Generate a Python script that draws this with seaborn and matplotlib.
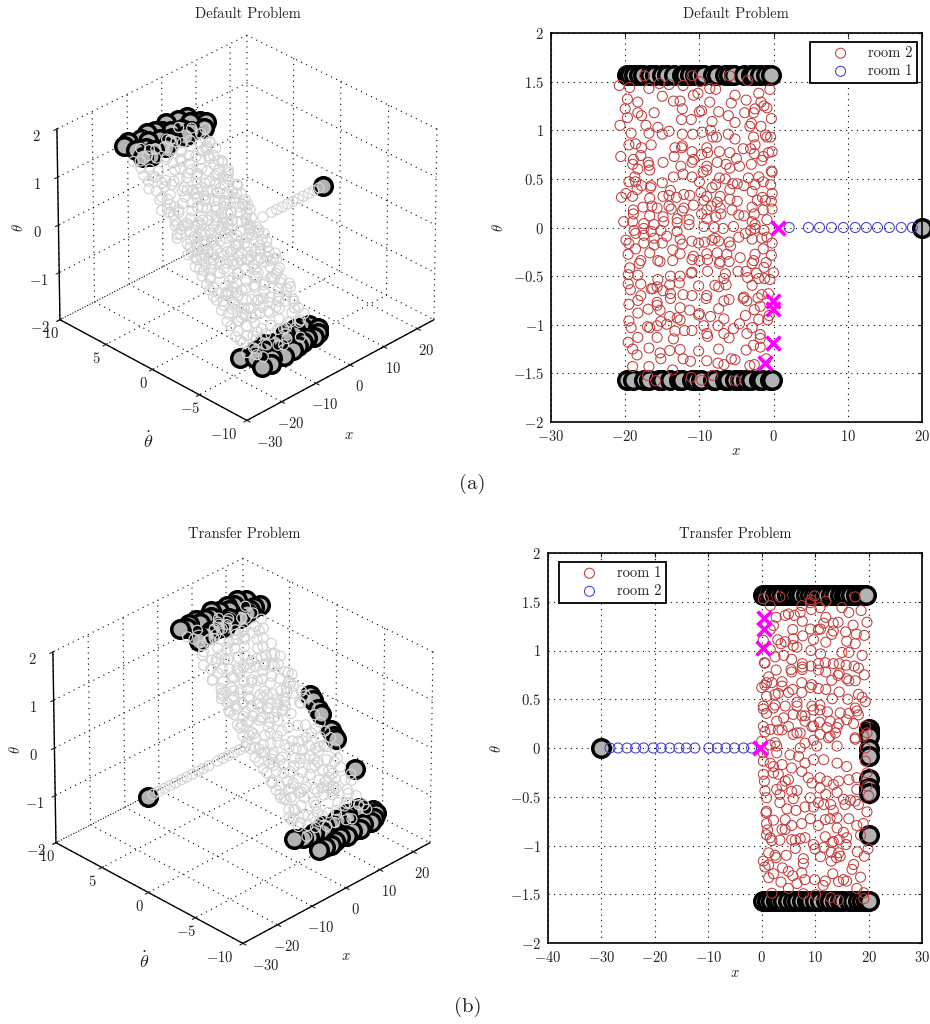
#!/usr/bin/env python3
"""Default and transfer problem: visited states in 3D and in the x-theta plane."""

import matplotlib
matplotlib.use("Agg")
import matplotlib.pyplot as plt
import seaborn as sns

# --- default problem, room 2 samples ---
default_x = [
    -17.4, -11, -5.9, -3.5, -20.8, -19.4, -16.8, -15.4, -14.1, -12.2,
    -9.9, -8.6, -7.8, -.5, -19.7, -15, -13.5, -12.6, -10.8, -10.2,
    -5.2, -2, -18.3, -8.6, -5.7, -3.7, -1.7, -1.3, -20, -12.3,
    -2.5, -.9, -10, -9.7, -16.1, -18.3, -17.8, -7.4, -6.1, -3.9,
    -2.7, -19.7, -12.4, -11.1, -.3, -20.7, -17.2, -15.6, -8.3, -5.2,
    -3, -3.2, -1.7, -8.5, -14.1, -19.2, -16.8, -15, -12.3, -10.9,
    -9.6, -6.1, -8.2, -7.7, -5.2, -2.7, -1.1, -.9, -.4, -19.5,
    -18.6, -17.8, -16.5, -13.3, -12.3, -12.4, -9, -2.5, -4.1, -3.1,
    -.7, -.2, -11, -7.3, -8.9, -9.7, -5.9, -2.6, -20.6, -17.9,
    -13.4, -5, -1.4, -1.6, -18.9, -10.8, -11, -16.9, -14.9, -7.6,
    -6.4, -4.6, -3, -19, -16.8, -16.7, -12.5, -9, -5.9, -18.3,
    -9, -9.5, -.2, -.3, -12.2, -18.7, -13.5, -11, -7.3, -6.5,
    -3.4, -2, -10, -19.5, -18.6, -15, -1.4, -7.8, -4.9, -5.5,
    -.4, -2.5, -17.8, -4, -16.5, -16.6, -8.3, -18.4, -5.9, -13.9,
    -2.9, -9.8, -.2, -19.9, -12.1, -11.3, -14.1, -20.5, -19, -9,
    -7.2, -1.5, -16.7, -14.9, -13.1, -9.4, -5.9, -2.2, -1.1, -.3,
    -7.6, -4.9, -10.8, -14.1, -8.4, -16.4, -17.6, -2.9, -7.2, -1.4,
    -.2, -18.9, -15.7, -13.8, -12.1, -12.3, -9, -5.6, -2.6, -9.7,
    -4.7, -4, -7.1, -7.8, -18.9, -16.7, -14.9, -13, -11.4, -9,
    -.9, -20.2, -19, -17.5, -16.1, -14.8, -13, -11.4, -9.4, -8,
    -6.8, -5.4, -2.9, -2.5, -3.1, -2.5, -1.3, -17.5, -18.8, -13,
    -16.5, -15.2, -3.8, -4.7, -18.6, -17.5, -16.1, -14.4, -12.6, -11,
    -10.1, -9.3, -7.9, -7.4, -6, -2.9, -1.6, -.2, -19.9, -19.5,
    -17.5, -16.1, -15, -12.3, -8.3, -5.8, -.9, -1.4, -19.6, -18.6,
    -16.7, -13.6, -12.6, -17.9, -18.1, -15.6, -15.3, -13.6, -10.8, -11,
    -10, -9, -8.9, -7.6, -7.2, -7.3, -6.3, -6, -4.5, -2.5,
    -2.7, -2.9, -.3, -1, -1.3, -19.4, -19.6, -18.3, -11, -11.1,
    -8.9, -6.5, -4.8, -3.7, -2.3, 0, -13.9, -12.6, -6.7, -3.5,
    -15.6, -1.2, -.5, -2, -19.6, -17.9, -12.7, -14, -10.1, -6.4,
    -2.9, -15.7, -16.5, -16.3, -7.9, -7.4, -19.3, -14.9, -17.9, -13.9,
    -13.9, -12.2, -11, -9, -9.1, -.7, -1.6, -2.1, -4, -18.3,
    -19.5, -15.7, -15.7, -6, -6.7, -4.1, -3.6, -16.9, -15.3, -12.6,
    -11.3, -18.3, -7.4, -2.6, -1.8, -10, -10.1, -.6, -.8, -8.5,
    -3.8, -2, -14, -13, -12.6, -6.7, -19.5, -15.2, -19.2, -17,
    -16.7, -15.7, -14.4, -9.4, -7.5, -4.6, -2.9, -13.3, -12, -11,
    -5.4, -9, -8.9, -6.7, -3.6, -1.8, -18.3, -15.7, -13.5, -6,
    -1.8, -19.6, -2.7, -1.8, -16.8, -19, -12.6, -14, -10.1, -7.4,
    -3.7, -18.4, -15.3, -15.2, -12.2, -11.2, -9, -5.7, -5.2, -7.5,
    -6.7, -3.2, -2.6, -1, -19, -16.8, -13.6, -17, -11.1, -8.2,
    -15.9, -9.7, -5.1,
]
default_theta = [
    1.56, 1.56, 1.56, 1.51, 1.46, 1.44, 1.43, 1.48, 1.47, 1.46,
    1.5, 1.43, 1.42, 1.42, 1.32, 1.35, 1.3, 1.3, 1.36, 1.38,
    1.36, 1.38, 1.29, 1.29, 1.28, 1.31, 1.29, 1.25, 1.22, 1.22,
    1.22, 1.23, 1.19, 1.2, 1.18, 1.18, 1.15, 1.19, 1.15, 1.18,
    1.18, 1.13, 1.11, 1.11, 1.12, 1.05, 1.05, 1.03, 1.09, 1.08,
    1.07, 1.04, 1.04, 1, .99, .97, .97, .96, .96, .96,
    .98, .96, .93, .93, .91, .93, .95, .93, .93, .85,
    .86, .82, .85, .82, .84, .82, .82, .85, .81, .81,
    .77, .78, .78, .78, .77, .75, .77, .76, .73, .74,
    .73, .71, .73, .69, .7, .7, .67, .67, .67, .67,
    .65, .63, .65, .65, .64, .59, .63, .63, .61, .6,
    .59, .57, .57, .58, .55, .52, .52, .52, .51, .5,
    .51, .52, .47, .47, .47, .46, .47, .44, .45, .45,
    .44, .44, .43, .43, .43, .41, .41, .39, .39, .38,
    .37, .36, .35, .35, .34, .33, .33, .31, .32, .32,
    .32, .31, .3, .32, .31, .28, .29, .28, .28, .27,
    .26, .27, .23, .22, .22, .22, .21, .21, .2, .18,
    .19, .18, .2, .19, .2, .17, .18, .18, .14, .14,
    .13, .12, .14, .11, .14, .12, .11, .09, .08, .09,
    .08, .06, .06, .04, .03, .06, .05, .03, .01, 0,
    -.01, .01, .06, .03, -.03, -.01, -.03, -.01, -.03, -.04,
    -.04, -.03, -.06, -.1, -.06, -.08, -.11, -.09, -.12, -.14,
    -.16, -.15, -.11, -.14, -.15, -.12, -.11, -.16, -.13, -.165,
    -.16, -.18, -.16, -.17, -.13, -.19, -.1, -.22, -.275, -.22,
    -.26, -.23, -.27, -.34, -.37, -.34, -.35, -.34, -.295, -.33,
    -.34, -.27, -.33, -.26, -.35, -.37, -.275, -.35, -.31, -.275,
    -.34, -.37, -.285, -.36, -.41, -.415, -.485, -.49, -.46, -.47,
    -.45, -.475, -.45, -.45, -.47, -.465, -.5, -.5, -.525, -.515,
    -.535, -.525, -.535, -.525, -.58, -.58, -.57, -.59, -.6, -.59,
    -.595, -.61, -.63, -.63, -.595, -.61, -.64, -.65, -.7, -.68,
    -.73, -.69, -.7, -.7, -.73, -.68, -.69, -.725, -.715, -.75,
    -.79, -.77, -.8, -.74, -.755, -.73, -.755, -.84, -.85, -.825,
    -.85, -.88, -.835, -.845, -.81, -.885, -.9, -.905, -.95, -.915,
    -.905, -.945, -.915, -.93, -.95, -.94, -.96, -.965, -1.03, -1.02,
    -1.03, -1.01, -.995, -1.01, -1.01, -.99, -1.03, -1.065, -1.06, -1.06,
    -1.04, -1.09, -1.12, -1.09, -1.09, -1.1, -1.13, -1.13, -1.145, -1.135,
    -1.14, -1.18, -1.21, -1.23, -1.24, -1.25, -1.255, -1.265, -1.27, -1.25,
    -1.26, -1.31, -1.29, -1.35, -1.35, -1.375, -1.37, -1.35, -1.36, -1.395,
    -1.41, -1.42, -1.41, -1.35, -1.43, -1.43, -1.465, -1.52, -1.54, -1.52,
    -1.575, -1.57, -1.575,
]
default_thetadot = [
    5.8, 5.4, 6.0, 5.5, 5.3, 5.1, 5.3, 5.6, 5.4, 5.2,
    5.4, 5.3, 4.9, 5.2, 4.9, 5.0, 4.6, 4.8, 5.0, 5.0,
    5.0, 5.1, 4.5, 4.7, 4.8, 4.5, 4.7, 4.4, 4.5, 4.3,
    4.3, 4.5, 4.2, 4.4, 4.4, 4.2, 4.1, 4.4, 4.1, 4.2,
    4.3, 4.1, 4.0, 3.9, 4.1, 3.7, 3.6, 3.8, 4.0, 3.9,
    3.9, 3.7, 3.8, 3.7, 3.5, 3.5, 3.5, 3.4, 3.6, 3.3,
    3.6, 3.5, 3.2, 3.4, 3.2, 3.4, 3.5, 3.2, 3.4, 3.0,
    3.1, 2.8, 3.0, 2.9, 3.1, 2.7, 2.9, 3.0, 2.8, 2.9,
    2.6, 2.8, 2.6, 2.7, 2.5, 2.6, 2.7, 2.5, 2.4, 2.5,
    2.6, 2.4, 2.5, 2.3, 2.4, 2.5, 2.2, 2.4, 2.3, 2.4,
    2.2, 2.1, 2.3, 2.2, 2.0, 2.0, 2.1, 2.2, 1.9, 2.0,
    2.0, 1.9, 1.8, 1.9, 1.7, 1.7, 1.8, 1.6, 1.7, 1.6,
    1.6, 1.7, 1.5, 1.4, 1.5, 1.4, 1.5, 1.4, 1.5, 1.3,
    1.4, 1.3, 1.2, 1.3, 1.3, 1.1, 1.2, 1.1, 1.2, 1.0,
    1.2, 1.1, 1.0, 1.0, 1.2, .9, 1.0, .8, 1.0, .9,
    1.0, .8, .8, 1.0, .9, .7, .8, .9, .7, .7,
    .7, .8, .5, .6, .4, .5, .4, .6, .4, .4,
    .5, .3, .4, .3, .5, .2, .3, .4, .1, .2,
    .2, .1, .3, .1, 0, .1, 0, -.1, 0, -.1,
    .1, -.2, -.2, -.2, -.3, -.1, -.2, -.4, -.3, -.4,
    -.5, -.3, -.1, -.3, -.5, -.4, -.6, -.6, -.5, -.6,
    -.6, -.5, -.7, -.8, -.6, -.7, -.9, -.7, -.9, -1.0,
    -1.1, -1.0, -.8, -.9, -1.0, -.7, -.8, -1.0, -.9, -1.2,
    -1.1, -1.2, -1.0, -1.1, -.9, -1.2, -.7, -1.2, -1.5, -1.3,
    -1.4, -1.2, -1.5, -1.7, -1.8, -1.7, -1.8, -1.6, -1.5, -1.7,
    -1.7, -1.4, -1.7, -1.3, -1.8, -1.8, -1.5, -1.7, -1.6, -1.4,
    -1.5, -1.6, -1.3, -1.6, -1.9, -1.9, -2.3, -2.2, -2.1, -2.2,
    -2.1, -2.1, -2.0, -1.9, -2.0, -2.1, -2.3, -2.2, -2.4, -2.2,
    -2.5, -2.3, -2.4, -2.3, -2.7, -2.6, -2.6, -2.7, -2.7, -2.6,
    -2.6, -2.8, -2.9, -2.8, -2.7, -2.8, -2.9, -2.9, -3.1, -3.0,
    -3.2, -3.0, -3.0, -3.1, -3.2, -2.8, -2.9, -3.0, -3.1, -3.3,
    -3.5, -3.4, -3.5, -3.2, -3.3, -3.2, -3.3, -3.7, -3.7, -3.6,
    -3.7, -3.8, -3.6, -3.6, -3.4, -3.9, -3.9, -3.8, -4.0, -3.9,
    -3.8, -4.0, -3.9, -4.0, -4.1, -4.0, -4.1, -4.2, -4.4, -4.3,
    -4.3, -4.2, -4.2, -4.2, -4.1, -4.1, -4.3, -4.5, -4.4, -4.5,
    -4.4, -4.6, -4.7, -4.6, -4.5, -4.6, -4.8, -4.8, -4.8, -4.7,
    -4.7, -5.0, -5.1, -5.2, -5.2, -5.3, -5.2, -5.3, -5.3, -5.2,
    -5.2, -5.4, -5.3, -5.6, -5.5, -5.7, -5.6, -5.5, -5.6, -5.7,
    -5.7, -5.8, -5.7, -5.5, -6.0, -5.9, -6.1, -6.3, -6.4, -6.3,
    -6.6, -6.5, -6.6,
]

# --- default problem, room 1 corridor, goals and failures ---
default_corridor_x = [2.1, 4.7, 6.2, 7.8, 9.4, 11, 12.5, 14, 15.6, 17.2, 18.7]
default_corridor_theta = [0] * 11
default_corridor_thetadot = [0] * 11
default_goal_x = [
    -19.8, -19.3, -18.8, -18.2, -17.6, -16.6, -16, -15, -14.4, -13.4, -12.4, -12, -11.2, -10.6,
    -10, -9.4, -8.2, -7.6, -6.6, -6, -5.4, -4, -3, -2.6, -1.8, -1, -.4, 20,
    -19.7, -19, -17.5, -16.8, -15.4, -15, -14, -12.8, -12.3, -11, -10.5, -9.8,
    -8.2, -7.9, -6.6, -6.2, -5.2, -4.5, -3.7, -3, -2, -1.5, -.5, -.2,
]
default_goal_theta = [
    1.57, 1.57, 1.57, 1.57, 1.57, 1.57, 1.57, 1.57, 1.57, 1.57, 1.57, 1.57, 1.57, 1.57,
    1.57, 1.57, 1.57, 1.57, 1.57, 1.57, 1.57, 1.57, 1.57, 1.57, 1.57, 1.57, 1.57, 0,
    -1.57, -1.57, -1.57, -1.57, -1.57, -1.57, -1.57, -1.57, -1.57, -1.57, -1.57, -1.57,
    -1.57, -1.57, -1.57, -1.57, -1.57, -1.57, -1.57, -1.57, -1.57, -1.57, -1.57, -1.57,
]
default_goal_thetadot = [
    4.7, 6.9, 5.8, 4.4, 7.1, 5.5, 4.9, 6.7, 6.1, 4.6, 7.0, 5.7, 5.0, 6.8,
    5.2, 6.5, 6.0, 4.7, 7.1, 5.6, 4.9, 6.8, 5.9, 4.5, 6.6, 5.5, 5.1, 0,
    -5.5, -7.6, -6.3, -7.7, -5.6, -7.2, -6.0, -7.6, -5.4, -7.0, -5.8, -7.5,
    -6.1, -7.4, -5.5, -7.3, -6.0, -7.1, -5.5, -7.3, -5.7, -7.2, -5.9, -6.7,
]
default_fail_x = [.6, -.13, -.13, -.13, -1.2]
default_fail_theta = [0, -.757, -.835, -1.186, -1.39]

# --- transfer problem, room 1 samples ---
transfer_x = [
    .3, 3.4, 9.9, 9.2, 12, 17.5, 1.6, 7.5, 9.1, 10.9,
    15, 16.3, 18.6, 9.3, 2.7, 4.4, 5, 6.1, 7.2, 12,
    7.6, 19.7, 13.4, 14.3, 11.6, 17.1, 2.2, 9.1, 10.6, 11,
    5.8, 1.6, 13.4, 13.1, 15.7, 17.7, 19.2, 7.7, 9.7, 5.9,
    .3, 3, 15.9, 4.4, 3.6, 12, 17.5, 5.9, 6.6, 1.6,
    9.2, 15, 16.3, 11, 18.8, 2.5, 4.1, 5.6, .5, .6,
    2.7, 7.6, 7.6, 10.6, 11.9, 13.4, 14.5, 15.8, 9.2, 17.3,
    18.1, 5.5, 5.6, 7.6, 10.6, 12, 14.5, 14.3, 19.2, 1.3,
    15.9, 17.5, 13.1, 16.3, .9, 3.8, 7.5, 1.9, 9.4, 9.1,
    10.6, 12, 3.8, 0, .6, 5.8, 5, 7.5, 2.5, .9,
    3.1, 14.5, 18.1, 18.8, 19.4, 13.2, 16.1, .3, .3, 2.5,
    4.4, 6.6, 6.6, 2.2, 9.4, 10.9, 17.8, 17.5, 9.7, 10.9,
    12.3, .9, 5.9, 7.5, 8.1, 4.1, 14.7, 16.3, 18.1, 2.8,
    8.1, 10.8, 12.8, 14.4, 15.9, .3, 1.6, 3.1, 3.8, 5,
    6.6, 9.4, 9.7, 12.2, 14.1, 17.2, .6, 5.9, 7.2, 10.9,
    12.8, 13.8, 17.5, 19.4, 19.7, 19.1, 2.5, 0, 9.7, 12.5,
    17.5, 8.1, 1.6, 2.8, 19.4, 14.1, 7.2, 10.3, .3, .3,
    1.6, 2.8, 3.8, 2.2, 5.3, 6.9, 5.6, 7.5, 8.1, 9.7,
    11.6, 14.1, 15.9, 19.4, 19.7, .3, .5, 2.2, 3.1, 4.4,
    3.8, 5, 8.7, 9.4, 10.9, 12.2, 14.4, 16.3, 17.8, 19.7,
    .6, .9, 2.8, 3.4, 5.6, 6.6, 10.9, 12, 13.4, 14.1,
    17.8, 20, 9.1, 15.3, 16.6, 17.5, 3.4, 5.9, 10.6, 11.6,
    12.9, 15.6, 18.1, 13.4, .9, .8, 4.7, 6.4, 8.1, 9.7,
    19.7, 14.1, 16.3, 2.2, 4.4, 9.1, 11.9, 12.8, 17.8, 19,
    .9, 7.5, 10.6, 5.6, 1.1, 3.8, 4.4, 14.1, 15.3, 18.5,
    .9, 1.6, 1.9, 3.4, 5.6, 6.3, 7.2, 8.1, 11.9, 15.9,
    13.1, 13.4, 14.5, 9.7, 15.8, 6.3, 10, 11.6, 19.9, 13,
    17.9, 1.3, 14.4, 14.7, 2.5, 2.7, 4.6, 19.2, 11, 14,
    7.8, 7.8, .3, 13, 17.2, 3.9, 16.9, 5, .6, 1.3,
    2.2, 5.8, 7.5, 13.3, 1.3, 8.1, 9.9, 15.3, 15.9, 18.5,
    3.6, 6.6, 14.4, 11.9, 11.5, 5, 17.8, 1.9, 7.8, 10.1,
    19.1, 12.9, 14.4, 19.1,
]
transfer_theta = [
    1.53, 1.55, 1.56, 1.52, 1.505, 1.55, 1.46, 1.46, 1.49, 1.44,
    1.44, 1.39, 1.41, 1.42, 1.34, 1.36, 1.375, 1.36, 1.39, 1.34,
    1.3, 1.29, 1.28, 1.29, 1.28, 1.26, 1.255, 1.22, 1.215, 1.22,
    1.215, 1.215, 1.2, 1.165, 1.19, 1.17, 1.155, 1.15, 1.11, 1.12,
    1.105, 1.11, 1.095, 1.09, 1.07, 1.085, 1.07, 1.05, 1.035, 1.01,
    1, .98, .98, .965, .95, .935, .95, .91, .875, .87,
    .8, .865, .83, .865, .875, .865, .865, .85, .84, .84,
    .82, .805, .78, .805, .8, .78, .765, .745, .75, .73,
    .71, .69, .695, .69, .67, .68, .67, .67, .65, .62,
    .61, .6, .635, .62, .645, .6, .57, .57, .55, .53,
    .56, .575, .55, .52, .475, .505, .5, .43, .4, .44,
    .43, .47, .43, .41, .43, .44, .38, .41, .39, .39,
    .37, .355, .345, .33, .33, .31, .36, .355, .34, .275,
    .275, .265, .275, .25, .29, .22, .19, .185, .185, .22,
    .155, .22, .225, .21, .21, .25, .165, .14, .155, .14,
    .12, .155, .09, .225, .155, .12, .055, .07, .08, .105,
    .105, .05, .03, .02, 0, .02, 0, .02, -.05, -.135,
    -.155, -.05, -.17, -.19, -.07, -.085, -.205, -.24, -.155, -.12,
    -.12, -.155, -.19, -.135, -.255, -.27, -.34, -.255, -.27, -.34,
    -.39, -.325, -.305, -.36, -.305, -.34, -.34, -.325, -.305, -.39,
    -.44, -.51, -.425, -.475, -.445, -.435, -.41, -.475, -.375, -.455,
    -.425, -.49, -.51, -.525, -.535, -.545, -.56, -.52, -.56, -.58,
    -.58, -.58, -.58, -.64, -.65, -.665, -.625, -.64, -.605, -.605,
    -.655, -.715, -.725, -.74, -.735, -.725, -.735, -.725, -.795, -.775,
    -.775, -.775, -.795, -.795, -.84, -.835, -.835, -.82, -.865, -.895,
    -.89, -.92, -.95, -.945, -.94, -.945, -.93, -.92, -.91, -.92,
    -.97, -.96, -.94, -.99, -.99, -1.03, -1.035, -1.02, -1.035, -1.07,
    -1.065, -1.075, -1.075, -1.11, -1.1, -1.125, -1.1, -1.11, -1.115, -1.125,
    -1.135, -1.185, -1.16, -1.16, -1.195, -1.23, -1.245, -1.265, -1.22, -1.2,
    -1.29, -1.31, -1.28, -1.29, -1.33, -1.35, -1.35, -1.35, -1.365, -1.325,
    -1.375, -1.39, -1.37, -1.365, -1.41, -1.44, -1.44, -1.49, -1.495, -1.505,
    -1.485, -1.535, -1.56, -1.545,
]
transfer_thetadot = [
    6.9, 7.0, 7.1, 6.9, 6.8, 7.0, 6.7, 6.7, 6.8, 6.6,
    6.5, 6.5, 6.6, 6.5, 6.2, 6.3, 6.3, 6.2, 6.4, 6.1,
    6.1, 6.1, 5.9, 6.0, 5.9, 5.8, 5.9, 5.7, 5.8, 5.6,
    5.7, 5.8, 5.6, 5.5, 5.6, 5.6, 5.7, 5.4, 5.3, 5.3,
    5.2, 5.3, 5.2, 5.3, 5.1, 5.1, 5.1, 5.0, 4.9, 4.9,
    4.8, 4.8, 4.7, 4.7, 4.7, 4.5, 4.6, 4.4, 4.3, 4.4,
    4.0, 4.3, 4.2, 4.2, 4.3, 4.3, 4.2, 4.2, 4.2, 4.1,
    4.1, 4.0, 3.9, 4.0, 4.0, 3.9, 3.8, 3.8, 3.9, 3.7,
    3.6, 3.5, 3.6, 3.5, 3.5, 3.5, 3.5, 3.4, 3.4, 3.3,
    3.2, 3.2, 3.3, 3.2, 3.3, 3.2, 3.1, 3.1, 3.0, 2.9,
    3.0, 3.1, 3.0, 2.9, 2.7, 2.8, 2.8, 2.5, 2.4, 2.6,
    2.5, 2.7, 2.6, 2.4, 2.5, 2.6, 2.3, 2.4, 2.3, 2.3,
    2.2, 2.2, 2.2, 2.1, 2.1, 2.1, 2.2, 2.2, 2.1, 1.9,
    1.9, 1.8, 1.9, 1.8, 2.0, 1.6, 1.6, 1.5, 1.6, 1.7,
    1.4, 1.7, 1.7, 1.6, 1.6, 1.8, 1.4, 1.3, 1.4, 1.3,
    1.3, 1.4, 1.1, 1.7, 1.4, 1.3, .9, .9, 1.1, 1.2,
    1.2, 1.0, .8, .8, .8, .9, .8, .9, .6, .2,
    .2, .6, .1, 0, .5, .5, 0, -.1, .2, .3,
    .3, .2, 0, .3, -.2, -.3, -.6, -.2, -.3, -.6,
    -.8, -.5, -.4, -.6, -.4, -.6, -.6, -.5, -.4, -.7,
    -1.0, -1.3, -.9, -1.1, -1.0, -.9, -.8, -1.1, -.6, -1.0,
    -.9, -1.2, -1.3, -1.3, -1.3, -1.4, -1.4, -1.3, -1.4, -1.5,
    -1.5, -1.5, -1.5, -1.8, -1.8, -1.9, -1.7, -1.8, -1.6, -1.6,
    -1.8, -2.0, -2.1, -2.2, -2.2, -2.1, -2.1, -2.1, -2.4, -2.3,
    -2.3, -2.3, -2.4, -2.4, -2.6, -2.6, -2.6, -2.5, -2.7, -2.8,
    -2.8, -2.9, -3.0, -3.0, -3.0, -3.0, -2.9, -2.9, -2.9, -2.9,
    -3.1, -3.1, -3.0, -3.2, -3.2, -3.3, -3.4, -3.3, -3.4, -3.5,
    -3.5, -3.5, -3.5, -3.7, -3.6, -3.7, -3.6, -3.7, -3.7, -3.7,
    -3.8, -4.0, -3.9, -3.9, -4.0, -4.1, -4.2, -4.2, -4.1, -4.0,
    -4.4, -4.5, -4.3, -4.4, -4.5, -4.6, -4.6, -4.6, -4.7, -4.5,
    -4.7, -4.8, -4.7, -4.7, -4.9, -5.0, -5.0, -5.2, -5.2, -5.2,
    -5.1, -5.4, -5.5, -5.4,
]

# --- transfer problem, room 2 corridor, goals and failures ---
transfer_corridor_x = [
    -28.4, -26.9, -25.2, -23.6, -22.1, -20.3, -18.8, -17.2, -15.5, -14.1, -12.5,
    -9.9, -8.3, -6.7, -5.1, -3.4, -1.9,
]
transfer_corridor_theta = [0] * 17
transfer_corridor_thetadot = [0] * 17
transfer_goal_x = [
    .2, .8, 1.6, 2.4, 3, 3.8, 4.8, 5.4, 6, 6.8, 7.4, 8.2, 9, 9.8, 10.6, 11.2, 12, 13, 13.8,
    14.6, 15.4, 16, 16.8, 17.6, 18.4, 19, 19.6,
    .2, 1, 1.8, 2.6, 3.2, 4, 5, 5.8, 6.6, 7.6, 8.4, 9, 10, 11, 12, 12.8, 13.8, 14.6, 15.2,
    16.4, 17, 18, 18.8, 19.6, 20,
    20, 20, 20, 20, 20, 20, 20, 20, 20, -30,
]
transfer_goal_theta = [
    1.57, 1.57, 1.57, 1.57, 1.57, 1.57, 1.57, 1.57, 1.57, 1.57, 1.57, 1.57, 1.57, 1.57, 1.57,
    1.57, 1.57, 1.57, 1.57, 1.57, 1.57, 1.57, 1.57, 1.57, 1.57, 1.57, 1.57,
    -1.57, -1.57, -1.57, -1.57, -1.57, -1.57, -1.57, -1.57, -1.57, -1.57, -1.57, -1.57, -1.57,
    -1.57, -1.57, -1.57, -1.57, -1.57, -1.57, -1.57, -1.57, -1.57, -1.57, -1.57, -1.57,
    .19, .15, .12, -.01, -.085, -.32, -.41, -.46, -.89, 0,
]
transfer_goal_thetadot = [
    5.7, 7.9, 6.3, 7.7, 5.9, 8.0, 6.1, 7.5, 8.1, 6.0, 7.7, 5.8, 7.6, 6.2, 8.2, 6.5, 7.8, 5.9, 7.4,
    7.9, 6.1, 7.7, 6.3, 8.0, 6.4, 7.5, 6.2,
    -4.4, -6.8, -4.8, -6.9, -5.0, -7.0, -4.8, -6.8, -5.2, -6.7, -4.7, -6.9, -5.0, -6.7, -4.8,
    -6.9, -5.2, -6.6, -4.7, -6.8, -5.0, -6.6, -4.7, -6.2, -5.7,
    1.0, .9, .7, .1, -.2, -1.2, -1.6, -1.8, -3.8, 0,
]
transfer_fail_x = [-.3, .2, .5, .5]
transfer_fail_theta = [0, 1.03, 1.335, 1.225]

# --- tick labels ---
theta_ticks_2d = [-2, -1.5, -1, -.5, 0, .5, 1, 1.5, 2]
theta_labels_2d = ["$-2$", "$-1.5$", "$-1$", "$-0.5$", "$0$", "$0.5$", "$1$", "$1.5$", "$2$"]
default_xticks_2d = [-30, -20, -10, 0, 10, 20]
transfer_xticks_2d = [-40, -30, -20, -10, 0, 10, 20, 30]
xticks_3d = [-30, -20, -10, 0, 10, 20]
thetadot_ticks_3d = [-10, -5, 0, 5, 10]
theta_ticks_3d = [-2, -1, 0, 1, 2]

W, H = 930, 1024
RED, BLUE, MAGENTA = "#c43c3c", "#3f3fcf", "#ff00ff"
GOAL_FACE, CLOUD = "#b2b2b2", "#d4d4d4"
TEXT = "#222222"
FS = 10.5
SPARSE_DOTS = (0, (1, 4))


def math_labels(ticks):
    return [f"${t}$" for t in ticks]


def fig_xy(px, py):
    return px / W, 1 - py / H


def open_circles(ax, x, y, color, label=None, zorder=3):
    sns.scatterplot(x=x, y=y, ax=ax, s=52, color=color, edgecolor=color, linewidth=.75,
                    label=label, zorder=zorder, legend=False)
    ax.collections[-1].set_facecolor("none")


def draw_plane(box, x, theta, corr_x, corr_theta, goal_x, goal_theta, fail_x, fail_theta,
               xlim, xticks, labels, legend_loc, legend_anchor, title, title_xy):
    left, top, right, bottom = box
    ax = fig.add_axes([left / W, 1 - bottom / H, (right - left) / W, (bottom - top) / H])
    sns.scatterplot(x=goal_x, y=goal_theta, ax=ax, s=160, color=GOAL_FACE, edgecolor="black",
                    linewidth=2.5, zorder=2, clip_on=False, legend=False)
    open_circles(ax, x, theta, RED, labels[0])
    open_circles(ax, corr_x, corr_theta, BLUE, labels[1])
    sns.scatterplot(x=fail_x, y=fail_theta, ax=ax, s=100, color=MAGENTA, marker="x",
                    linewidth=2.6, zorder=4, clip_on=False, legend=False)
    ax.set_xlim(*xlim)
    ax.set_ylim(-2, 2)
    ax.set_xticks(xticks, math_labels(xticks))
    ax.set_yticks(theta_ticks_2d, theta_labels_2d)
    ax.grid(True, zorder=0)
    ax.set_axisbelow(True)
    ax.tick_params(direction="in", top=True, right=True, length=3, width=.8, labelsize=FS,
                   colors=TEXT, pad=5)
    for spine in ax.spines.values():
        spine.set_linewidth(1.2)
        spine.set_color("black")
    leg = ax.legend(loc=legend_loc, bbox_to_anchor=legend_anchor, fontsize=FS, frameon=True,
                    fancybox=False, framealpha=1, edgecolor="black", scatterpoints=1,
                    handlelength=3.6, handletextpad=.1, borderpad=.3, labelspacing=.3,
                    borderaxespad=0, labelcolor=TEXT)
    leg.get_frame().set_linewidth(1.3)
    leg.set_zorder(6)
    fig.text(*fig_xy(*title_xy), title, fontsize=FS, color=TEXT, ha="center", va="center")
    return ax


def draw_cloud(rect, x, thetadot, theta, corr_x, corr_td, corr_theta, goal_x, goal_td, goal_theta,
               title, title_xy, xlabel_xy, tdlabel_xy, thlabel_xy):
    ax = fig.add_axes(rect, projection="3d", computed_zorder=False)
    ax.view_init(elev=31, azim=-135)
    ax.set_proj_type("persp", focal_length=3)
    ax.set_box_aspect((1, 1, .835), zoom=.966)
    ax.patch.set_alpha(0)
    ax.set_xlim(-30, 25, view_margin=0)
    ax.set_ylim(-10, 10, view_margin=0)
    ax.set_zlim(-2, 2, view_margin=0)
    ax.scatter(goal_x, goal_td, goal_theta, s=160, c=GOAL_FACE, edgecolors="black",
               linewidths=2.5, depthshade=False, zorder=2, clip_on=False)
    ax.scatter(list(x) + list(corr_x), list(thetadot) + list(corr_td), list(theta) + list(corr_theta),
               s=52, facecolors="none", edgecolors=CLOUD, linewidths=.9, depthshade=False,
               zorder=3, clip_on=False)
    ax.set_xticks(xticks_3d, math_labels(xticks_3d))
    ax.set_yticks(thetadot_ticks_3d, math_labels(thetadot_ticks_3d))
    ax.set_zticks(theta_ticks_3d, math_labels(theta_ticks_3d))
    for axis in (ax.xaxis, ax.yaxis, ax.zaxis):
        axis.set_pane_color((1, 1, 1, 0))
        axis.pane.set_edgecolor((1, 1, 1, 0))
        axis.line.set_linewidth(1.0)
        axis.line.set_color("black")
    ax.tick_params(labelsize=FS, colors=TEXT, pad=0)
    ax.tick_params(axis="z", pad=1)
    # the two labels at the front corner would collide if both stayed centred
    ax.get_xticklabels()[0].set_ha("left")
    ax.get_yticklabels()[0].set_ha("right")
    for label in ax.get_yticklabels():
        label.set_va("center")
    ax.grid(True)
    fig.text(*fig_xy(*title_xy), title, fontsize=FS, color=TEXT, ha="center", va="center")
    fig.text(*fig_xy(*xlabel_xy), "$x$", fontsize=FS, color=TEXT, ha="center", va="center")
    fig.text(*fig_xy(*tdlabel_xy), r"$\dot{\theta}$", fontsize=13, color=TEXT, ha="center", va="center")
    fig.text(*fig_xy(*thlabel_xy), r"$\theta$", fontsize=FS, color=TEXT, rotation=90, ha="center", va="center")
    return ax


sns.set_style("white")
plt.rcParams["font.family"] = ["cmr10", "DejaVu Serif"]
plt.rcParams["mathtext.fontset"] = "cm"
plt.rcParams["axes.unicode_minus"] = False
plt.rcParams["grid.color"] = "black"
plt.rcParams["grid.linestyle"] = SPARSE_DOTS
plt.rcParams["grid.linewidth"] = .8

fig = plt.figure(figsize=(W / 100, H / 100), dpi=100, facecolor="white")

# left column, 3D views
draw_cloud([11 / W, 1 - 451 / H, 460 / W, 440 / H], default_x, default_thetadot, default_theta,
           default_corridor_x, default_corridor_thetadot, default_corridor_theta,
           default_goal_x, default_goal_thetadot, default_goal_theta,
           "Default Problem", (248, 14), (349, 435), (148, 441), (18, 228))
draw_cloud([7 / W, 1 - 974 / H, 460 / W, 440 / H], transfer_x, transfer_thetadot, transfer_theta,
           transfer_corridor_x, transfer_corridor_thetadot, transfer_corridor_theta,
           transfer_goal_x, transfer_goal_thetadot, transfer_goal_theta,
           "Transfer Problem", (244, 534), (346, 956), (144, 961), (15, 750))

# right column, x-theta plane
draw_plane((551, 33, 922, 422), default_x, default_theta, default_corridor_x, default_corridor_theta,
           default_goal_x, default_goal_theta, default_fail_x, default_fail_theta,
           (-30, 20), default_xticks_2d, ("room 2", "room 1"), "upper right", (.987, .977),
           "Default Problem", (736, 14))
draw_plane((548, 553, 922, 943), transfer_x, transfer_theta, transfer_corridor_x, transfer_corridor_theta,
           transfer_goal_x, transfer_goal_theta, transfer_fail_x, transfer_fail_theta,
           (-40, 30), transfer_xticks_2d, ("room 1", "room 2"), "upper left", (.029, .977),
           "Transfer Problem", (735, 534))

fig.text(*fig_xy(472, 484), "(a)", fontsize=15, color=TEXT, ha="center", va="center")
fig.text(*fig_xy(468, 1007), "(b)", fontsize=15, color=TEXT, ha="center", va="center")
# panel xlabels in the x-theta plane
fig.text(*fig_xy(736, 451), "$x$", fontsize=FS, color=TEXT, ha="center", va="center")
fig.text(*fig_xy(735, 973), "$x$", fontsize=FS, color=TEXT, ha="center", va="center")
fig.text(*fig_xy(498, 228), r"$\theta$", fontsize=FS, color=TEXT, rotation=90, ha="center", va="center")
fig.text(*fig_xy(496, 749), r"$\theta$", fontsize=FS, color=TEXT, rotation=90, ha="center", va="center")

fig.savefig("out.png", dpi=100)
